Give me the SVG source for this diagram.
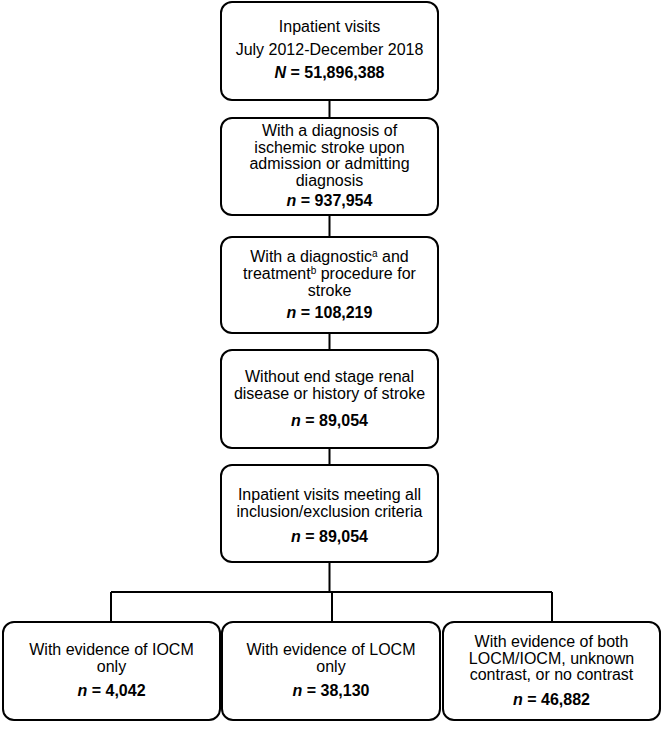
<svg xmlns="http://www.w3.org/2000/svg" width="667" height="735" viewBox="0 0 667 735">
<style>
.box{fill:#fff;stroke:#000;stroke-width:2}
.t{font-family:"Liberation Sans",Arial,sans-serif;font-size:16px;text-anchor:middle;fill:#000}
.n{font-weight:bold}
.sup{font-size:10px}
.c{fill:none;stroke:#000;stroke-width:2}
</style>
<rect width="667" height="735" fill="#fff"/>
<g id="connectors">
<path class="c" d="M329.5 100 V118 M329.5 215 V237 M329.5 333 V350 M329.5 448 V465 M329.5 562 V592 M111 592 H552 M111 592 V622 M332 592 V622 M552 592 V622"/>
</g>
<g id="n1">
<rect class="box" x="221" y="2" width="217" height="98" rx="11"/>
<text class="t" x="329.5" y="32">Inpatient visits</text>
<text class="t" x="329.5" y="55">July 2012-December 2018</text>
<text class="t n" x="329.5" y="78"><tspan font-style="italic">N</tspan> = 51,896,388</text>
</g>
<g id="n2">
<rect class="box" x="221" y="118" width="217" height="97" rx="11"/>
<text class="t" x="329.5" y="135.5">With a diagnosis of</text>
<text class="t" x="329.5" y="152.5">ischemic stroke upon</text>
<text class="t" x="329.5" y="169">admission or admitting</text>
<text class="t" x="329.5" y="186">diagnosis</text>
<text class="t n" x="329.5" y="205.5"><tspan font-style="italic">n</tspan> = 937,954</text>
</g>
<g id="n3">
<rect class="box" x="221" y="237" width="217" height="96" rx="11"/>
<text class="t" x="329.5" y="262">With a diagnostic<tspan class="sup" dy="-5">a</tspan><tspan dy="5"> and</tspan></text>
<text class="t" x="329.5" y="279">treatment<tspan class="sup" dy="-5">b</tspan><tspan dy="5"> procedure for</tspan></text>
<text class="t" x="329.5" y="296">stroke</text>
<text class="t n" x="329.5" y="318"><tspan font-style="italic">n</tspan> = 108,219</text>
</g>
<g id="n4">
<rect class="box" x="221" y="350" width="217" height="98" rx="11"/>
<text class="t" x="329.5" y="382">Without end stage renal</text>
<text class="t" x="329.5" y="399">disease or history of stroke</text>
<text class="t n" x="329.5" y="426"><tspan font-style="italic">n</tspan> = 89,054</text>
</g>
<g id="n5">
<rect class="box" x="221" y="465" width="217" height="97" rx="11"/>
<text class="t" x="329.5" y="500">Inpatient visits meeting all</text>
<text class="t" x="329.5" y="517">inclusion/exclusion criteria</text>
<text class="t n" x="329.5" y="542"><tspan font-style="italic">n</tspan> = 89,054</text>
</g>
<g id="n6">
<rect class="box" x="3" y="622" width="217" height="98" rx="11"/>
<text class="t" x="111.5" y="655">With evidence of IOCM</text>
<text class="t" x="111.5" y="671.5">only</text>
<text class="t n" x="111.5" y="696"><tspan font-style="italic">n</tspan> = 4,042</text>
</g>
<g id="n7">
<rect class="box" x="222" y="622" width="218" height="98" rx="11"/>
<text class="t" x="331" y="655">With evidence of LOCM</text>
<text class="t" x="331" y="671.5">only</text>
<text class="t n" x="331" y="696"><tspan font-style="italic">n</tspan> = 38,130</text>
</g>
<g id="n8">
<rect class="box" x="443" y="622" width="217" height="98" rx="11"/>
<text class="t" x="551.5" y="647">With evidence of both</text>
<text class="t" x="551.5" y="663.5">LOCM/IOCM, unknown</text>
<text class="t" x="551.5" y="680">contrast, or no contrast</text>
<text class="t n" x="551.5" y="705"><tspan font-style="italic">n</tspan> = 46,882</text>
</g>
</svg>
